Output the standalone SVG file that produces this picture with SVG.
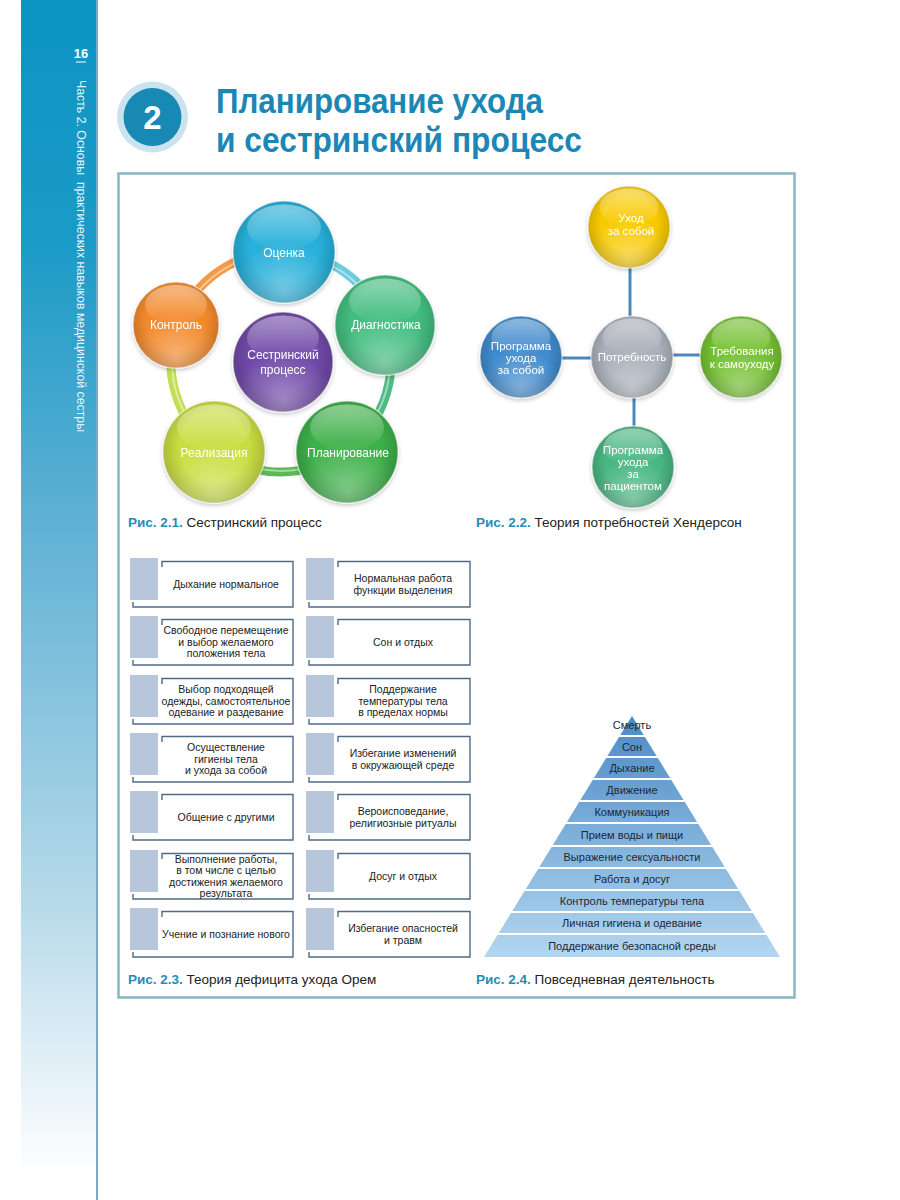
<svg xmlns="http://www.w3.org/2000/svg" width="900" height="1200" viewBox="0 0 900 1200">
<defs>
<linearGradient id="side" x1="0" y1="0" x2="0" y2="1">
<stop offset="0" stop-color="#0d94c3"/><stop offset="0.2" stop-color="#1a9bc7"/><stop offset="0.4" stop-color="#55add2"/><stop offset="0.6" stop-color="#8cc6df"/><stop offset="0.76" stop-color="#b9dbea"/><stop offset="0.9" stop-color="#e6f2f8"/><stop offset="0.98" stop-color="#ffffff"/>
</linearGradient>
<radialGradient id="shade" cx="0.5" cy="0.45" r="0.56"><stop offset="0.6" stop-color="#000" stop-opacity="0"/><stop offset="1" stop-color="#000" stop-opacity="0.2"/></radialGradient>
<radialGradient id="glow" cx="0.5" cy="0.88" r="0.5"><stop offset="0" stop-color="#fff" stop-opacity="0.35"/><stop offset="1" stop-color="#fff" stop-opacity="0"/></radialGradient>
<linearGradient id="hl" x1="0" y1="0" x2="0" y2="1"><stop offset="0" stop-color="#fff" stop-opacity="0.42"/><stop offset="1" stop-color="#fff" stop-opacity="0"/></linearGradient>
<linearGradient id="pyr" gradientUnits="userSpaceOnUse" x1="0" y1="716" x2="0" y2="957"><stop offset="0" stop-color="#4c8ac5"/><stop offset="1" stop-color="#b2d6ef"/></linearGradient>
<filter id="ds" x="-20%" y="-20%" width="140%" height="150%"><feDropShadow dx="0" dy="2" stdDeviation="2" flood-color="#000" flood-opacity="0.22"/></filter>
</defs>
<style>
text{font-family:"Liberation Sans",Arial,sans-serif}
.sph{stroke:#fff;stroke-opacity:.6;stroke-width:1.5}
.lbl{font-size:12px;fill:#fff;text-anchor:middle}
.lb2{font-size:11.5px;fill:#fff;text-anchor:middle}
.box{fill:none;stroke:#4f6a86;stroke-width:1.4}
.sq{fill:#b8c6dc}
.bt{font-size:10.5px;fill:#222;text-anchor:middle}
.pt{font-size:11px;fill:#1a2838;text-anchor:middle}
.cap{font-size:13.5px;fill:#222}
.capb{font-weight:bold;fill:#1f8db8}
.conn{stroke:#4a88bd;stroke-width:3;fill:none}
.ring{fill:none;stroke-width:9;stroke-linecap:round}
.ringhl{fill:none;stroke:#fff;stroke-opacity:.45;stroke-width:2}
</style>

<!-- page chrome -->
<rect x="0" y="0" width="900" height="1200" fill="#ffffff"/>
<rect x="21" y="0" width="75" height="1200" fill="url(#side)"/>
<line x1="97" y1="0" x2="97" y2="1200" stroke="#3b95b6" stroke-width="1.5"/>
<text x="81" y="58" font-size="13" font-weight="bold" fill="#ffffff" text-anchor="middle">16</text>
<line x1="76" y1="62" x2="86" y2="62" stroke="#ffffff" stroke-width="1"/>
<text transform="translate(77,80) rotate(90)" font-size="13" fill="#e4f3f9" textLength="352" lengthAdjust="spacingAndGlyphs">Часть 2. Основы&#160; практических навыков медицинской сестры</text>

<circle cx="152.5" cy="117" r="35.5" fill="#cbe3ee"/>
<circle cx="152.5" cy="117" r="29" fill="#1888b5"/>
<text x="152.5" y="129" font-size="33" font-weight="bold" fill="#ffffff" text-anchor="middle">2</text>
<text x="216" y="113" font-size="35" font-weight="bold" fill="#1c87b4" textLength="327" lengthAdjust="spacingAndGlyphs">Планирование ухода</text>
<text x="216" y="152" font-size="35" font-weight="bold" fill="#1c87b4" textLength="366" lengthAdjust="spacingAndGlyphs">и сестринский процесс</text>

<rect x="118.5" y="173.5" width="676" height="824" fill="#ffffff" stroke="#8ab5c5" stroke-width="2.5"/>

<!-- Fig 2.1 ring connectors -->
<g id="connectors-2-1">
<path class="ring" stroke="#6ccbdc" d="M284.8,252.1 A110,110 0 0 1 384.6,325.1"/>
<path class="ring" stroke="#4fbb84" d="M384.6,325.1 A110,110 0 0 1 346.1,450.7"/>
<path class="ring" stroke="#5db955" d="M346.1,450.7 A110,110 0 0 1 215.2,450.2"/>
<path class="ring" stroke="#c2de55" d="M215.2,450.2 A110,110 0 0 1 177.1,325.8"/>
<path class="ring" stroke="#f29a45" d="M177.1,325.8 A110,110 0 0 1 284.8,252.1"/>
<circle class="ringhl" cx="281" cy="362" r="109"/>
</g>

<g id="n-ocenka" filter="url(#ds)">
<circle class="sph" cx="284" cy="252" r="51" fill="#27b0da"/>
<circle cx="284" cy="252" r="51" fill="url(#shade)"/>
<circle cx="284" cy="252" r="51" fill="url(#glow)"/>
<ellipse cx="284" cy="227.5" rx="37" ry="23" fill="url(#hl)"/>
<text class="lbl" x="284" y="257">Оценка</text>
</g>
<g id="n-diag" filter="url(#ds)">
<circle class="sph" cx="385" cy="325" r="50" fill="#42bd80"/>
<circle cx="385" cy="325" r="50" fill="url(#shade)"/>
<circle cx="385" cy="325" r="50" fill="url(#glow)"/>
<ellipse cx="385" cy="301" rx="36" ry="22.5" fill="url(#hl)"/>
<text class="lbl" x="386" y="329">Диагностика</text>
</g>
<g id="n-plan" filter="url(#ds)">
<circle class="sph" cx="347" cy="452" r="51" fill="#3db049"/>
<circle cx="347" cy="452" r="51" fill="url(#shade)"/>
<circle cx="347" cy="452" r="51" fill="url(#glow)"/>
<ellipse cx="347" cy="427.5" rx="37" ry="23" fill="url(#hl)"/>
<text class="lbl" x="348" y="457">Планирование</text>
</g>
<g id="n-real" filter="url(#ds)">
<circle class="sph" cx="214" cy="452" r="51" fill="#c8de40"/>
<circle cx="214" cy="452" r="51" fill="url(#shade)"/>
<circle cx="214" cy="452" r="51" fill="url(#glow)"/>
<ellipse cx="214" cy="427.5" rx="37" ry="23" fill="url(#hl)"/>
<text class="lbl" x="214" y="457">Реализация</text>
</g>
<g id="n-kontrol" filter="url(#ds)">
<circle class="sph" cx="176" cy="325" r="43" fill="#f38a2c"/>
<circle cx="176" cy="325" r="43" fill="url(#shade)"/>
<circle cx="176" cy="325" r="43" fill="url(#glow)"/>
<ellipse cx="176" cy="304.5" rx="31" ry="19.5" fill="url(#hl)"/>
<text class="lbl" x="176" y="329">Контроль</text>
</g>
<g id="n-center" filter="url(#ds)">
<circle class="sph" cx="283" cy="362" r="50" fill="#7049a8"/>
<circle cx="283" cy="362" r="50" fill="url(#shade)"/>
<circle cx="283" cy="362" r="50" fill="url(#glow)"/>
<ellipse cx="283" cy="338" rx="36" ry="22.5" fill="url(#hl)"/>
<text class="lbl" x="283" y="359">Сестринский</text>
<text class="lbl" x="283" y="374">процесс</text>
</g>
<text class="cap" x="128" y="527"><tspan class="capb">Рис. 2.1.</tspan> Сестринский процесс</text>

<!-- Fig 2.2 -->
<g id="connectors-2-2">
<line class="conn" x1="630" y1="266" x2="630" y2="318"/>
<line class="conn" x1="671" y1="355" x2="702" y2="355"/>
<line class="conn" x1="560" y1="358" x2="593" y2="358"/>
<line class="conn" x1="634" y1="396" x2="634" y2="430"/>
</g>
<g id="n-uhod" filter="url(#ds)">
<circle class="sph" cx="629" cy="227" r="41" fill="#f8cb05"/>
<circle cx="629" cy="227" r="41" fill="url(#shade)"/>
<circle cx="629" cy="227" r="41" fill="url(#glow)"/>
<ellipse cx="629" cy="207" rx="29.5" ry="18.5" fill="url(#hl)"/>
<text class="lb2" x="631" y="222">Уход</text>
<text class="lb2" x="631" y="235">за собой</text>
</g>
<g id="n-potr" filter="url(#ds)">
<circle class="sph" cx="632" cy="357" r="41" fill="#a9b0b9"/>
<circle cx="632" cy="357" r="41" fill="url(#shade)"/>
<circle cx="632" cy="357" r="41" fill="url(#glow)"/>
<ellipse cx="632" cy="337" rx="29.5" ry="18.5" fill="url(#hl)"/>
<text class="lb2" x="632" y="361">Потребность</text>
</g>
<g id="n-treb" filter="url(#ds)">
<circle class="sph" cx="741" cy="357" r="41" fill="#74c032"/>
<circle cx="741" cy="357" r="41" fill="url(#shade)"/>
<circle cx="741" cy="357" r="41" fill="url(#glow)"/>
<ellipse cx="741" cy="337" rx="29.5" ry="18.5" fill="url(#hl)"/>
<text class="lb2" x="742" y="355">Требования</text>
<text class="lb2" x="742" y="368">к самоуходу</text>
</g>
<g id="n-prog-self" filter="url(#ds)">
<circle class="sph" cx="521" cy="357" r="41" fill="#3f8acd"/>
<circle cx="521" cy="357" r="41" fill="url(#shade)"/>
<circle cx="521" cy="357" r="41" fill="url(#glow)"/>
<ellipse cx="521" cy="337" rx="29.5" ry="18.5" fill="url(#hl)"/>
<text class="lb2" x="521" y="350">Программа</text>
<text class="lb2" x="521" y="362">ухода</text>
<text class="lb2" x="521" y="374">за собой</text>
</g>
<g id="n-prog-pac" filter="url(#ds)">
<circle class="sph" cx="633" cy="467" r="41" fill="#48b682"/>
<circle cx="633" cy="467" r="41" fill="url(#shade)"/>
<circle cx="633" cy="467" r="41" fill="url(#glow)"/>
<ellipse cx="633" cy="447" rx="29.5" ry="18.5" fill="url(#hl)"/>
<text class="lb2" x="633" y="454">Программа</text>
<text class="lb2" x="633" y="466">ухода</text>
<text class="lb2" x="633" y="478">за</text>
<text class="lb2" x="633" y="490">пациентом</text>
</g>
<text class="cap" x="476" y="527"><tspan class="capb">Рис. 2.2.</tspan> Теория потребностей Хендерсон</text>

<!-- Fig 2.3 -->
<g id="orem-left">
<g id="b-l1"><rect class="sq" x="130" y="558" width="28" height="42"/><path class="box" d="M162,567V561.5H293V607H133V602"/><text class="bt" x="226" y="587.7">Дыхание нормальное</text></g>
<g id="b-l2"><rect class="sq" x="130" y="616" width="28" height="42"/><path class="box" d="M162,625V619.5H293V665H133V660"/><text class="bt" x="226" y="634.2">Свободное перемещение</text><text class="bt" x="226" y="645.7">и выбор желаемого</text><text class="bt" x="226" y="657.2">положения тела</text></g>
<g id="b-l3"><rect class="sq" x="130" y="675" width="28" height="42"/><path class="box" d="M162,684V678.5H293V724H133V719"/><text class="bt" x="226" y="693.2">Выбор подходящей</text><text class="bt" x="226" y="704.7">одежды, самостоятельное</text><text class="bt" x="226" y="716.2">одевание и раздевание</text></g>
<g id="b-l4"><rect class="sq" x="130" y="733" width="28" height="42"/><path class="box" d="M162,742V736.5H293V782H133V777"/><text class="bt" x="226" y="751.2">Осуществление</text><text class="bt" x="226" y="762.7">гигиены тела</text><text class="bt" x="226" y="774.2">и ухода за собой</text></g>
<g id="b-l5"><rect class="sq" x="130" y="791" width="28" height="42"/><path class="box" d="M162,800V794.5H293V840H133V835"/><text class="bt" x="226" y="820.7">Общение с другими</text></g>
<g id="b-l6"><rect class="sq" x="130" y="850" width="28" height="42"/><path class="box" d="M162,859V853.5H293V899H133V894"/><text class="bt" x="226" y="862.5">Выполнение работы,</text><text class="bt" x="226" y="874">в том числе с целью</text><text class="bt" x="226" y="885.5">достижения желаемого</text><text class="bt" x="226" y="897">результата</text></g>
<g id="b-l7"><rect class="sq" x="130" y="908" width="28" height="42"/><path class="box" d="M162,917V911.5H293V957H133V952"/><text class="bt" x="226" y="937.7">Учение и познание нового</text></g>
</g>
<g id="orem-right">
<g id="b-r1"><rect class="sq" x="306" y="558" width="28" height="42"/><path class="box" d="M338,567V561.5H470V607H309V602"/><text class="bt" x="403" y="582">Нормальная работа</text><text class="bt" x="403" y="593.5">функции выделения</text></g>
<g id="b-r2"><rect class="sq" x="306" y="616" width="28" height="42"/><path class="box" d="M338,625V619.5H470V665H309V660"/><text class="bt" x="403" y="645.7">Сон и отдых</text></g>
<g id="b-r3"><rect class="sq" x="306" y="675" width="28" height="42"/><path class="box" d="M338,684V678.5H470V724H309V719"/><text class="bt" x="403" y="693.2">Поддержание</text><text class="bt" x="403" y="704.7">температуры тела</text><text class="bt" x="403" y="716.2">в пределах нормы</text></g>
<g id="b-r4"><rect class="sq" x="306" y="733" width="28" height="42"/><path class="box" d="M338,742V736.5H470V782H309V777"/><text class="bt" x="403" y="757">Избегание изменений</text><text class="bt" x="403" y="768.5">в окружающей среде</text></g>
<g id="b-r5"><rect class="sq" x="306" y="791" width="28" height="42"/><path class="box" d="M338,800V794.5H470V840H309V835"/><text class="bt" x="403" y="815">Вероисповедание,</text><text class="bt" x="403" y="826.5">религиозные ритуалы</text></g>
<g id="b-r6"><rect class="sq" x="306" y="850" width="28" height="42"/><path class="box" d="M338,859V853.5H470V899H309V894"/><text class="bt" x="403" y="879.7">Досуг и отдых</text></g>
<g id="b-r7"><rect class="sq" x="306" y="908" width="28" height="42"/><path class="box" d="M338,917V911.5H470V957H309V952"/><text class="bt" x="403" y="932">Избегание опасностей</text><text class="bt" x="403" y="943.5">и травм</text></g>
</g>
<text class="cap" x="128" y="984"><tspan class="capb">Рис. 2.3.</tspan> Теория дефицита ухода Орем</text>

<!-- Fig 2.4 pyramid -->
<g id="pyramid" fill="url(#pyr)">
<g id="p1"><polygon points="632,716 643.7,735 620.3,735"/><text class="pt" x="632" y="728.5">Смерть</text></g>
<g id="p2"><polygon points="619.1,737 644.9,737 656.6,756 607.4,756"/><text class="pt" x="632" y="750.5">Сон</text></g>
<g id="p3"><polygon points="606.2,758 657.8,758 670.1,778 593.9,778"/><text class="pt" x="632" y="772">Дыхание</text></g>
<g id="p4"><polygon points="592.7,780 671.3,780 683.6,800 580.4,800"/><text class="pt" x="632" y="794">Движение</text></g>
<g id="p5"><polygon points="579.2,802 684.8,802 697.1,822 566.9,822"/><text class="pt" x="632" y="816">Коммуникация</text></g>
<g id="p6"><polygon points="565.7,824 698.3,824 711.2,845 552.8,845"/><text class="pt" x="632" y="838.5">Прием воды и пищи</text></g>
<g id="p7"><polygon points="551.6,847 712.4,847 724.7,867 539.3,867"/><text class="pt" x="632" y="861">Выражение сексуальности</text></g>
<g id="p8"><polygon points="538.1,869 725.9,869 738.2,889 525.8,889"/><text class="pt" x="632" y="883">Работа и досуг</text></g>
<g id="p9"><polygon points="524.5,891 739.5,891 751.7,911 512.3,911"/><text class="pt" x="632" y="905">Контроль температуры тела</text></g>
<g id="p10"><polygon points="511,913 753,913 765.2,933 498.8,933"/><text class="pt" x="632" y="927">Личная гигиена и одевание</text></g>
<g id="p11"><polygon points="497.5,935 766.5,935 780,957 484,957"/><text class="pt" x="632" y="950">Поддержание безопасной среды</text></g>
</g>
<text class="cap" x="476" y="984"><tspan class="capb">Рис. 2.4.</tspan> Повседневная деятельность</text>
</svg>
